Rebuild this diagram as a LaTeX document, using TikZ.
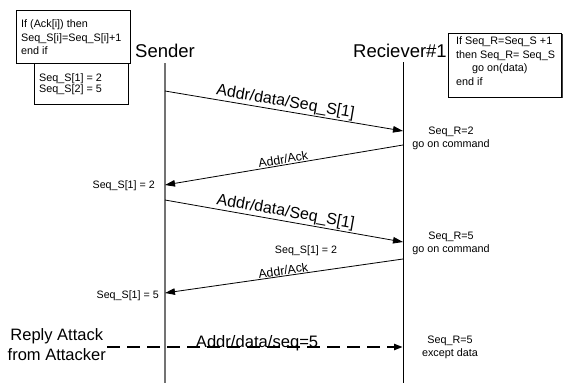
\documentclass[tikz,border=0pt]{standalone}
\usepackage{fontspec}
\setmainfont{Liberation Sans}
\usetikzlibrary{arrows.meta,shadows}
\newcommand\fsz[2]{\fontsize{#1}{#2}\selectfont}

\begin{document}
\begin{tikzpicture}[x=1pt,y=-1pt,
  box/.style={draw=black,line width=0.8pt,fill=white,
    drop shadow={shadow xshift=1pt,shadow yshift=-1pt,opacity=1,fill=black!75}},
  head/.style={font=\fsz{18.5}{22},inner sep=0pt},
  note/.style={font=\fsz{10.8}{13.6},inner sep=0pt,align=left},
  state/.style={font=\fsz{10.8}{13},inner sep=0pt,align=center},
  small/.style={font=\fsz{10.7}{13},inner sep=0pt},
  sline/.style={draw=black!55,line width=1.2pt},
  rline/.style={draw=black,line width=0.9pt},
  msg/.style={draw=black,line width=0.8pt,-{Triangle[length=10pt,width=6.5pt]}},
  datalab/.style={font=\fsz{16}{19},inner sep=1pt,sloped,above},
  acklab/.style={font=\fsz{12.3}{14},inner sep=0.8pt,sloped,above},
  attack/.style={draw=black,line width=2.2pt,dash pattern=on 13pt off 7pt,
    -{Triangle[length=9pt,width=6pt]}}
]
\useasboundingbox (0,0) rectangle (563,383);

% sender-side notes
\draw[box] (16,10) rectangle (130,63);
\draw[box] (34,63) rectangle (128,104);
\node[note,anchor=west] (ackrule) at (21,37.5)
  {If (Ack[i]) then\\Seq\_S[i]=Seq\_S[i]+1\\end if};
\node[note,font=\fsz{10.8}{11},anchor=west] (seqinit) at (39,84.5)
  {Seq\_S[1] = 2\\Seq\_S[2] = 5};

% receiver-side note
\draw[box] (448,33) rectangle (561.5,97);
\node[note,anchor=west] (rxrule) at (456,61)
  {If Seq\_R=Seq\_S +1\\then Seq\_R= Seq\_S\\\hspace*{16pt}go on(data)\\end if};

% participants and lifelines
\node[head] (sender) at (165,51) {Sender};
\node[head,anchor=east] (receiver) at (447,51) {Reciever\#1};
\coordinate (sTop) at (165,63);
\coordinate (sEnd) at (165,383);
\coordinate (rTop) at (403,62);
\coordinate (rEnd) at (403,383);
\draw[sline] (sTop) -- (sEnd);
\draw[rline] (rTop) -- (rEnd);

% message end points
\coordinate (s1) at (165,91);   \coordinate (r1) at (403,131);
\coordinate (r2) at (403,145);  \coordinate (s2) at (165,185);
\coordinate (s3) at (165,200);  \coordinate (r3) at (403,242);
\coordinate (r4) at (403,259);  \coordinate (s4) at (165,293);
\coordinate (a5) at (107,347);  \coordinate (r5) at (403,347);

% messages
\draw[msg] (s1) -- node[datalab] (d1) {Addr/data/Seq\_S[1]} (r1);
\draw[msg] (r2) -- node[acklab] (k1) {Addr/Ack} (s2);
\draw[msg] (s3) -- node[datalab] (d2) {Addr/data/Seq\_S[1]} (r3);
\draw[msg] (r4) -- node[acklab] (k2) {Addr/Ack} (s4);

% replayed message
\node[font=\fsz{16.5}{20},align=center,inner sep=0pt,anchor=east] (attacker)
  at (106,345) {Reply Attack\\from Attacker};
\draw[attack] (a5) -- node[pos=0.507,anchor=base,inner sep=0pt,
  font=\fsz{16.6}{19}] (d3) {Addr/data/seq=5} (r5);

% state annotations
\node[state] (rx1) at (451,138.5) {Seq\_R=2\\go on command};
\node[state] (rx2) at (451,243) {Seq\_R=5\\go on command};
\node[state] (rx3) at (450,347.5) {Seq\_R=5\\except data};
\node[small,anchor=east] (sv1) at (155,186) {Seq\_S[1] = 2};
\node[small] (sv1b) at (306,251) {Seq\_S[1] = 2};
\node[small,anchor=east] (sv2) at (159,296) {Seq\_S[1] = 5};
\end{tikzpicture}
\end{document}
